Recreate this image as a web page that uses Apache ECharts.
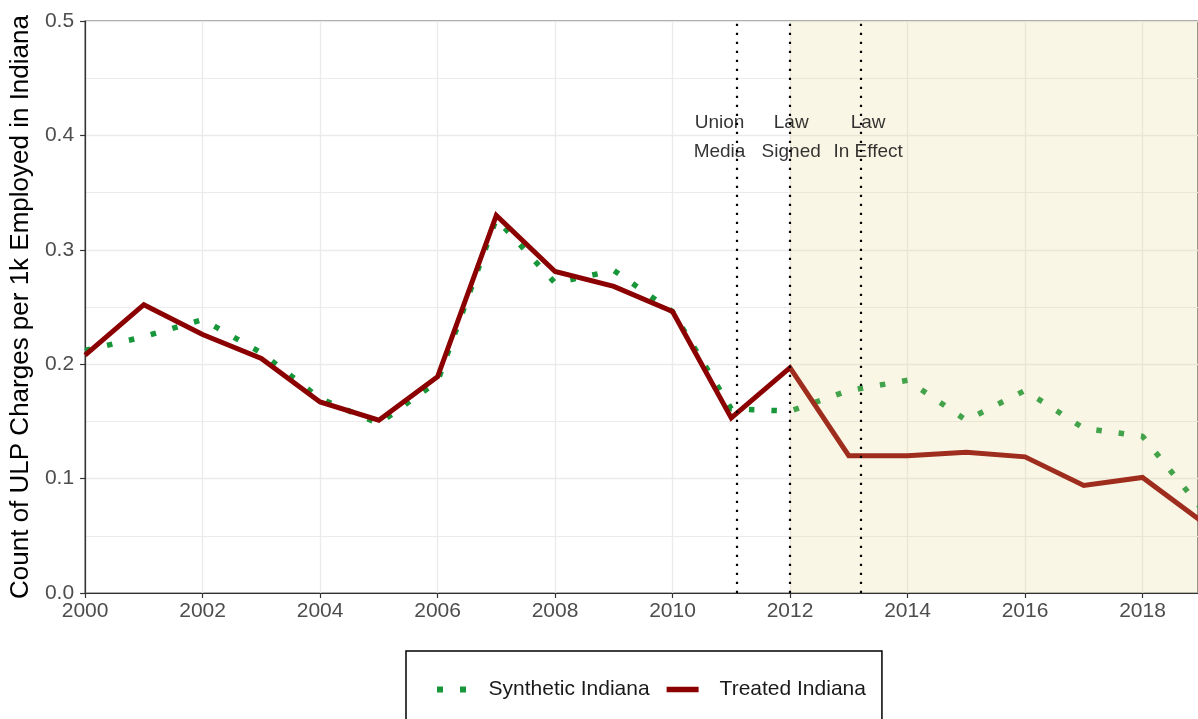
<!DOCTYPE html>
<html>
<head>
<meta charset="utf-8">
<script src="https://cdn.jsdelivr.net/npm/echarts@6/dist/echarts.min.js"></script>
<style>
  html, body { margin: 0; padding: 0; background: #fff; }
  #chart { width: 1198px; height: 719px; }
</style>
</head>
<body>
<div id="chart"></div>
<script>
// Annual ULP charges per 1k employed, Indiana vs. its synthetic control
const years = [2000, 2001, 2002, 2003, 2004, 2005, 2006, 2007, 2008, 2009,
               2010, 2011, 2012, 2013, 2014, 2015, 2016, 2017, 2018, 2019];
const treatedIndiana = [0.208, 0.252, 0.226, 0.205, 0.167, 0.151, 0.189, 0.330, 0.281, 0.268,
                        0.246, 0.153, 0.197, 0.120, 0.120, 0.123, 0.119, 0.094, 0.101, 0.063];
const syntheticIndiana = [0.212, 0.224, 0.239, 0.210, 0.170, 0.148, 0.185, 0.327, 0.271, 0.282,
                          0.246, 0.161, 0.159, 0.177, 0.186, 0.151, 0.177, 0.144, 0.137, 0.074];

// Event markers (fractional years) and their captions
const eventDates = [2011.1, 2012, 2013.2];
const eventCaptions = ['Union\nMedia', 'Law\nSigned', 'Law\nIn Effect'];
const captionAnchorX = [2010.8, 2012.02, 2013.33];
const captionAnchorY = 0.398;
const treatmentStart = 2012;

// Visible x range: the panel is cut at the page edge shortly before 2019
const xMin = 2000;
const xMax = 2018.945;
const xTickYears = [2000, 2002, 2004, 2006, 2008, 2010, 2012, 2014, 2016, 2018];
const yTicks = [0, 0.1, 0.2, 0.3, 0.4, 0.5];

const pairs = (xs, ys) => xs.map((x, i) => [x, ys[i]]);

const chart = echarts.init(document.getElementById('chart'), null, { renderer: 'canvas' });

const gridColor = '#EBEBEB';
const fontFamily = 'Liberation Sans, Arial, sans-serif';
const tickFont = { fontFamily, fontSize: 21, color: '#4D4D4D' };

chart.setOption({
  animation: false,
  backgroundColor: '#ffffff',
  grid: {
    left: 85, top: 21, right: 0, bottom: 126,
    show: true, borderColor: '#333333', borderWidth: 1.2, backgroundColor: '#ffffff'
  },
  xAxis: {
    type: 'value', min: xMin, max: xMax, interval: 1,
    axisLine: { show: true, onZero: false, lineStyle: { color: '#333333', width: 1.2 } },
    axisTick: { show: true, length: 5, customValues: xTickYears, lineStyle: { color: '#333333', width: 1.2 } },
    axisLabel: { ...tickFont, margin: 8, customValues: xTickYears, formatter: v => String(v) },
    splitLine: { show: true, lineStyle: { color: gridColor, width: 1.4 } }
  },
  yAxis: {
    type: 'value', min: 0, max: 0.5, interval: 0.1,
    name: 'Count of ULP Charges per 1k Employed in Indiana',
    nameLocation: 'middle', nameRotate: 90, nameGap: 44,
    nameTextStyle: { fontFamily, fontSize: 26, color: '#000000' },
    axisLine: { show: true, lineStyle: { color: '#333333', width: 1.2 } },
    axisTick: { show: true, length: 5, lineStyle: { color: '#333333', width: 1.2 } },
    axisLabel: {
      ...tickFont, margin: 11,
      formatter: v => {
        const hit = yTicks.find(t => Math.abs(t - v) < 1e-9);
        return hit === undefined ? '' : hit.toFixed(1);
      }
    },
    splitLine: { show: true, lineStyle: { color: gridColor, width: 1.4 } },
    minorTick: { show: false, splitNumber: 2 },
    minorSplitLine: { show: true, lineStyle: { color: gridColor, width: 1.2 } }
  },
  legend: {
    left: 406, top: 651,
    data: [
      { name: 'Synthetic Indiana', icon: 'path://M0,0H6V6H0ZM23,0H29V6H23Z' },
      { name: 'Treated Indiana', icon: 'path://M0,0H32V5.5H0Z' }
    ],
    orient: 'horizontal',
    itemWidth: 32, itemHeight: 6, itemGap: 17,
    padding: [28, 16, 24, 31],
    borderColor: '#000000', borderWidth: 1.5,
    backgroundColor: '#ffffff',
    textStyle: { fontFamily, fontSize: 21, color: '#1a1a1a', padding: [0, 0, 0, 16] }
  },
  series: [
    {
      name: 'Synthetic Indiana', type: 'line', z: 2,
      data: pairs(years, syntheticIndiana),
      showSymbol: false, symbol: 'none', clip: true,
      lineStyle: { color: '#17963a', width: 5.5, type: [5.5, 17], cap: 'butt' },
      itemStyle: { color: '#17963a' }
    },
    {
      name: 'Treated Indiana', type: 'line', z: 3,
      data: pairs(years, treatedIndiana),
      showSymbol: false, symbol: 'none', clip: true,
      lineStyle: { color: '#8B0000', width: 5, cap: 'butt', join: 'miter' },
      itemStyle: { color: '#8B0000' }
    },
    {
      // translucent post-treatment period shading, drawn over the lines
      name: 'post', type: 'line', z: 4, data: [], silent: true,
      markArea: {
        silent: true, z: 8,
        itemStyle: { color: 'rgba(231,214,136,0.21)' },
        data: [[{ xAxis: treatmentStart }, { xAxis: xMax }]]
      }
    },
    {
      // event marker lines
      name: 'events', type: 'line', z: 9, data: [], silent: true,
      markLine: {
        silent: true, symbol: 'none', z: 9,
        label: { show: false },
        lineStyle: { color: '#000000', width: 2.2, type: [2.2, 6.8], cap: 'butt' },
        data: eventDates.map(d => ({ xAxis: d }))
      }
    },
    {
      // event captions
      name: 'captions', type: 'scatter', z: 10, silent: true,
      symbolSize: 0,
      data: eventCaptions.map((c, i) => ({ value: [captionAnchorX[i], captionAnchorY], name: c })),
      label: {
        show: true, position: 'inside', formatter: p => p.name,
        fontFamily, fontSize: 19, lineHeight: 29,
        color: '#000000', align: 'center', verticalAlign: 'middle'
      }
    }
  ]
});
</script>
</body>
</html>
